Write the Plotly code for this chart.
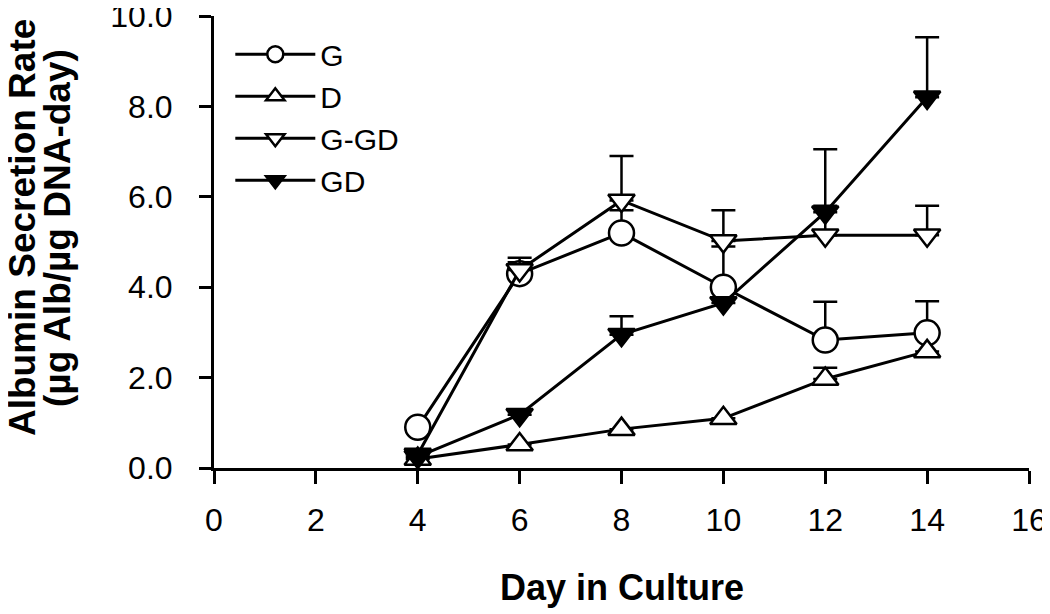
import plotly.graph_objects as go

days = [4, 6, 8, 10, 12, 14]
series_names = ["G", "D", "G-GD", "GD"]
g_vals = [0.9, 4.3, 5.2, 4.0, 2.83, 2.99]
g_err = [0, 0.25, 0.5, 0.9, 0.85, 0.7]
d_vals = [0.2, 0.52, 0.86, 1.1, 1.97, 2.58]
d_err = [0, 0, 0, 0, 0.25, 0]
ggd_vals = [0.3, 4.38, 5.92, 5.02, 5.15, 5.15]
ggd_err = [0, 0.27, 0.98, 0.68, 0.65, 0.65]
gd_vals = [0.25, 1.18, 2.95, 3.65, 5.66, 8.2]
gd_err = [0, 0, 0.41, 0, 1.39, 1.33]

x_ticks = [0, 2, 4, 6, 8, 10, 12, 14, 16]
y_ticks = [0, 2, 4, 6, 8, 10]

FONT = "Liberation Sans, Arial, sans-serif"

styles = [
    dict(symbol="circle", size=25, fill="white"),
    dict(symbol="triangle-up", size=23, fill="white"),
    dict(symbol="triangle-down", size=23, fill="white"),
    dict(symbol="triangle-down", size=23, fill="black"),
]
vals = [g_vals, d_vals, ggd_vals, gd_vals]
errs = [g_err, d_err, ggd_err, gd_err]

fig = go.Figure()
for name, v, e, st in zip(series_names, vals, errs, styles):
    fig.add_trace(go.Scatter(
        x=days, y=v, name=name, mode="lines+markers",
        legendgroup=name,
        line=dict(color="black", width=3),
        marker=dict(symbol=st["symbol"], size=st["size"], color=st["fill"],
                    line=dict(color="black", width=2.5)),
        error_y=dict(type="data", symmetric=False, array=e,
                     arrayminus=[0] * len(e), color="black",
                     thickness=2.5, width=12),
    ))

fig.update_layout(
    width=1050, height=614,
    margin=dict(l=206, r=29, t=8, b=154),
    paper_bgcolor="white", plot_bgcolor="white",
    font=dict(family=FONT, color="black"),
    showlegend=True,
    legend=dict(x=0.02, y=0.973, xanchor="left", yanchor="top",
                font=dict(size=30, family=FONT), itemwidth=80,
                tracegroupgap=0, bgcolor="rgba(0,0,0,0)"),
    xaxis=dict(range=[0, 16], tickvals=x_ticks, showgrid=False, zeroline=False,
               showline=True, linecolor="black", linewidth=3, automargin=False,
               ticks="outside", ticklen=13, tickwidth=3, tickcolor="black",
               ticklabeloverflow="allow",
               tickfont=dict(size=32, family=FONT), ticklabelstandoff=9),
    yaxis=dict(range=[0, 10], tickvals=y_ticks, tickformat=".1f", showgrid=False,
               zeroline=False, showline=True, linecolor="black", linewidth=3,
               automargin=False, ticklabeloverflow="allow",
               ticks="outside", ticklen=12, tickwidth=3, tickcolor="black",
               tickfont=dict(size=32, family=FONT), ticklabelstandoff=20),
)

fig.add_annotation(text="<b>Day in Culture</b>", xref="paper", yref="paper",
                   x=0.5, y=-0.265, xanchor="center", yanchor="middle",
                   showarrow=False, font=dict(size=36, family=FONT))
fig.add_annotation(text="<b>Albumin Secretion Rate</b>", xref="paper", yref="paper",
                   x=-0.2343, y=0.531, xanchor="center", yanchor="middle",
                   textangle=-90, showarrow=False, font=dict(size=37, family=FONT))
fig.add_annotation(text="<b>(µg Alb/µg DNA-day)</b>", xref="paper", yref="paper",
                   x=-0.1914, y=0.531, xanchor="center", yanchor="middle",
                   textangle=-90, showarrow=False, font=dict(size=37, family=FONT))

fig.write_html("out.html")
